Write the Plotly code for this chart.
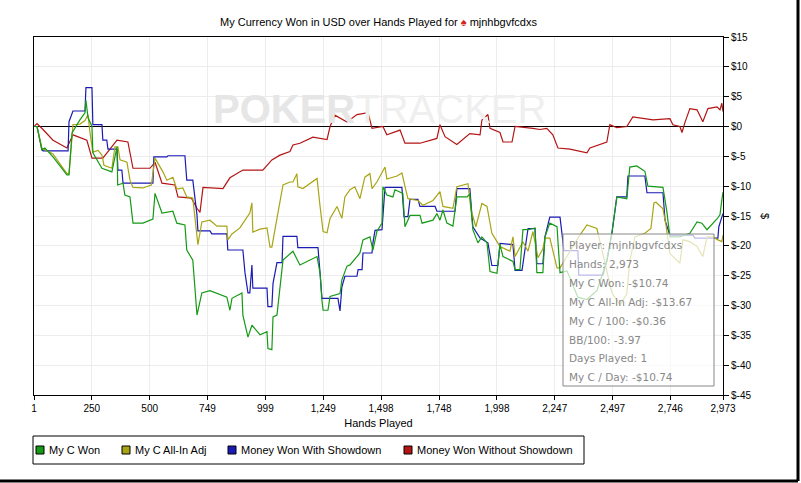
import plotly.graph_objects as go

# ---- data (hands, dollars) ----
red_h = [1,14,40,83,143,169,229,251,298,359,406,428,501,523,553,609,622,680,704,717,730,816,846,902,988,1027,1062,1105,1118,1148,1204,1265,1278,1299,1351,1394,1442,1459,1506,1523,1580,1601,1666,1739,1752,1774,1825,1881,1925,1933,1959,1968,2011,2024,2063,2076,2153,2183,2213,2239,2261,2313,2386,2399,2472,2485,2515,2558,2584,2671,2744,2757,2787,2796,2809,2830,2861,2886,2908,2947,2960,2968,2973]
red_v = [0,0.5,-0.5,-2.3,-3.6,-1.4,-2.3,-5.3,-5.3,-2.3,-2.6,-7,-7,-6,-9.5,-9.8,-11.8,-12,-13.7,-14.4,-10.2,-10.4,-8.6,-7.3,-7.3,-5.6,-4.8,-4.2,-3.1,-2.8,-1.8,-2.2,0,1.9,0.75,2,2.3,-0.3,0,-1.4,-0.6,-2.8,-2.8,-2,0.3,-1.7,-3,-1.2,-1.4,1.1,2,-0.3,-1,-2.6,-2.6,0,-0.3,-0.5,-0.3,-1.4,-3.6,-3.8,-4.4,-3.6,-2.6,0.3,-0.2,0,1.6,1.1,1.3,0.3,0,-1,0.7,3,2.8,0.8,3,3.3,2.8,3.9,2.5]

green_h = [1,14,35,48,83,143,152,165,199,221,225,234,251,255,294,337,359,362,385,393,415,428,471,514,523,553,600,617,652,660,686,704,725,760,833,846,855,898,902,924,941,976,1006,1010,1027,1032,1049,1062,1075,1118,1148,1222,1235,1243,1248,1269,1278,1321,1329,1351,1364,1407,1420,1450,1463,1480,1502,1506,1523,1549,1558,1592,1601,1623,1666,1675,1722,1739,1752,1765,1782,1808,1825,1869,1881,1894,1916,1933,1955,1968,1998,2011,2024,2067,2076,2097,2110,2132,2162,2170,2196,2205,2226,2257,2270,2300,2347,2386,2429,2472,2494,2515,2558,2571,2601,2636,2649,2714,2731,2744,2787,2830,2861,2882,2904,2947,2960,2968,2973]
green_v = [0,0,-3.9,-3.6,-5.1,-8.1,-8.1,-1.1,1.1,2.3,4.4,1.5,0,-4.4,-7,-7.6,-3.4,-9.8,-9.5,-11.5,-11.8,-16.2,-16.2,-15.5,-11.2,-14.5,-14.2,-16.2,-16.5,-20.7,-22.4,-31.6,-27.9,-27.5,-28.6,-30.8,-28.8,-27.9,-31.6,-35.3,-33.3,-34.9,-34.4,-37.2,-37.4,-31.9,-31.6,-27.2,-22.4,-20.9,-23.2,-21.8,-24.6,-29.1,-30.8,-30.8,-28.5,-28,-25.7,-23.4,-23.2,-21.2,-19,-18.5,-20.7,-17.6,-16.2,-10.1,-11.5,-11.8,-10.6,-11.2,-16.8,-14.9,-14.9,-16.2,-15.7,-14.6,-15.7,-14,-16.2,-16.7,-11.8,-11.8,-11.3,-17.3,-19.5,-18.5,-19.5,-24.3,-24.6,-19.8,-21.8,-22.6,-24,-24,-17.3,-17.3,-17,-24.5,-24.5,-18.5,-16.2,-16.8,-24.5,-24.2,-28.6,-29,-27.5,-22.5,-17.8,-11.8,-12.1,-6.8,-6.6,-7.5,-10,-10.2,-14.3,-18.5,-18.5,-17.9,-16,-16.2,-17.3,-15.5,-14.8,-12.3,-11,-10.74]

blue_h = [1,14,35,40,148,152,169,221,225,251,255,294,298,315,320,359,363,380,385,514,518,574,579,652,660,686,704,708,760,768,833,837,902,911,924,932,941,945,1006,1010,1027,1032,1049,1071,1075,1135,1139,1226,1235,1243,1312,1321,1329,1342,1394,1399,1416,1420,1459,1463,1472,1502,1515,1588,1597,1614,1623,1657,1666,1731,1739,1817,1825,1881,1894,1925,1959,1976,2002,2011,2067,2076,2106,2132,2162,2170,2196,2205,2226,2270,2287,2347,2351,2455,2472,2494,2515,2558,2563,2636,2645,2714,2723,2744,2843,2852,2951,2955,2968,2973]
blue_v = [0,0,-3.9,-4.1,-4.1,0.8,2.6,2.6,6.5,6.5,0.3,0.3,-2.3,-2.3,-3.8,-3.8,-7.3,-7.3,-9.5,-9.5,-5.1,-5.1,-4.9,-4.9,-9,-9,-14.8,-17.5,-17.5,-18,-18,-20.7,-20.7,-24.5,-27.9,-27.9,-23.2,-27.1,-27.1,-30.2,-30.2,-26.3,-22.8,-22.8,-18.4,-18.4,-20.3,-20.3,-24.6,-28.8,-28.8,-30.9,-26.9,-25.1,-25.1,-24,-24,-21.2,-21.2,-19.5,-17.4,-17.3,-10.2,-10.2,-15.1,-15.1,-12.2,-12.2,-13.4,-13.4,-14.2,-14.2,-10.4,-10.4,-16.8,-18.7,-19.5,-23.3,-23.3,-19.6,-19.8,-24.1,-24.1,-17.1,-17.1,-23,-23,-18.5,-15.2,-15.2,-20.8,-20.8,-24.9,-24.9,-22.5,-17.8,-11.8,-11.8,-8.3,-8.3,-11.1,-11.1,-15.7,-18.2,-18.2,-18.7,-18.7,-16.8,-15.2,-14.6]

yellow_h = [1,14,35,83,143,152,165,169,199,221,234,242,255,277,294,303,337,350,363,372,402,415,428,471,507,523,557,574,600,617,643,660,686,708,725,760,790,833,837,855,889,932,941,945,976,1006,1019,1027,1049,1075,1105,1118,1135,1139,1161,1204,1222,1235,1248,1265,1278,1308,1329,1342,1364,1385,1407,1428,1450,1459,1480,1515,1523,1567,1588,1601,1614,1657,1679,1722,1752,1765,1808,1825,1873,1886,1907,1933,1955,1976,2011,2054,2067,2076,2110,2132,2153,2175,2196,2205,2226,2257,2270,2347,2386,2429,2472,2494,2529,2558,2571,2593,2636,2662,2675,2684,2714,2727,2744,2787,2800,2830,2861,2886,2904,2930,2951,2968,2973]
yellow_v = [0,0,-3.6,-4.6,-7.9,-7.9,-1.8,0.3,0.4,1,2,-0.9,-4.3,-4,-4.8,-6.5,-7,-3.4,-3.4,-5.6,-6,-9,-10.2,-10.3,-9.8,-5.3,-7.6,-9,-8.5,-10.5,-10.3,-11.8,-12,-19.8,-16,-15.7,-16.7,-16.7,-19,-18,-17,-14.5,-12.8,-17.7,-17.2,-17,-20.2,-20.2,-15.4,-9.8,-9.3,-9.3,-7.9,-10.1,-10.4,-9.3,-8.7,-13.4,-17.6,-17.8,-15.4,-13.4,-15.4,-11.8,-10.6,-10.1,-12.1,-8.5,-7.9,-10.4,-9.3,-6.8,-8.8,-8.3,-7.8,-10,-12.1,-12.4,-13.2,-12.4,-10.9,-13.4,-13.7,-10.1,-9.6,-14,-16.8,-12.9,-13.4,-17.9,-20.1,-20.9,-18.5,-21.8,-19.3,-20.9,-17.6,-22,-20.5,-18.7,-18.7,-23.7,-23.7,-18.7,-16.5,-17.1,-24.2,-27.9,-29.9,-28.1,-22.5,-18.5,-17.9,-17.1,-12.8,-12.7,-13.8,-16.5,-21.3,-22.9,-19,-19.3,-20.1,-21.8,-18.5,-18.5,-19,-19.3,-18.2,-17.9,-16.3,-14.8,-13.67]

x_ticks = [1,250,500,749,999,1249,1498,1748,1998,2247,2497,2746,2973]
x_labels = [f"{v:,}" for v in x_ticks]
y_ticks = list(range(-45, 20, 5))
y_labels = [f"${v}" for v in y_ticks]

tooltip_lines = ["Player: mjnhbgvfcdxs", "Hands: 2,973", "My C Won: -$10.74",
                 "My C All-In Adj: -$13.67", "My C / 100: -$0.36", "BB/100: -3.97",
                 "Days Played: 1", "My C / Day: -$10.74"]

series = [
    ("My C Won", "#159a15", green_h, green_v),
    ("My C All-In Adj", "#a8a414", yellow_h, yellow_v),
    ("Money Won With Showdown", "#1a1ab4", blue_h, blue_v),
    ("Money Won Without Showdown", "#b41414", red_h, red_v),
]
legend_marker_px = [40, 126, 232, 408]

L, T, PW, PH = 34, 37, 689, 358
def px(x): return (x - L) / PW
def py(y): return (T + PH - y) / PH

fig = go.Figure()
for name, col, h, v in reversed(series):
    fig.add_trace(go.Scatter(x=h, y=v, mode="lines", line=dict(color=col, width=1.2),
                             showlegend=False, hoverinfo="skip"))

fig.add_annotation(text="<b>POKER</b><span style='color:#efefef'>TRACKER</span>",
                   xref="paper", yref="paper", x=px(380), y=py(85),
                   showarrow=False,
                   font=dict(family="Liberation Sans Narrow, Liberation Sans", size=40, color="#e6e6e6"))

fig.add_shape(type="rect", xref="paper", yref="paper", x0=px(563), x1=px(714),
              y0=py(386), y1=py(234), line=dict(color="#888", width=1),
              fillcolor="rgba(255,255,255,0.7)")
for i, t in enumerate(tooltip_lines):
    fig.add_annotation(text=t, xref="paper", yref="paper", x=px(567), y=py(245 + i * 18.9),
                       xanchor="left", yanchor="middle", showarrow=False,
                       font=dict(family="DejaVu Sans", size=10.5, color="#888"))

fig.add_annotation(text="$", xref="paper", yref="paper", x=px(765), y=0.5,
                   xanchor="center", showarrow=False, textangle=90,
                   font=dict(size=11, color="black"))

fig.add_shape(type="rect", xref="paper", yref="paper", x0=px(33), x1=px(584),
              y0=py(464), y1=py(436), line=dict(color="black", width=1), fillcolor="white")
for (name, col, h, v), mx in zip(series, legend_marker_px):
    fig.add_shape(type="rect", xref="paper", yref="paper", x0=px(mx - 4), x1=px(mx + 4),
                  y0=py(454), y1=py(446), line=dict(color="black", width=1), fillcolor=col)
    fig.add_annotation(text=name, xref="paper", yref="paper", x=px(mx + 7), y=py(450),
                       xanchor="left", yanchor="middle", showarrow=False,
                       font=dict(family="Liberation Sans Narrow, Liberation Sans", size=11, color="black"))

fig.add_shape(type="line", xref="paper", yref="paper", x0=px(798), x1=px(798),
              y0=py(481), y1=py(-5), line=dict(color="black", width=3))
fig.add_shape(type="line", xref="paper", yref="paper", x0=px(-5), x1=px(798),
              y0=py(481), y1=py(481), line=dict(color="black", width=3))

fig.update_layout(
    width=801, height=483, margin=dict(l=34, r=78, t=37, b=88),
    paper_bgcolor="white", plot_bgcolor="white", showlegend=False,
    font=dict(family="Liberation Sans", size=10, color="black"),
    title=dict(text="My Currency Won in USD over Hands Played for <span style='color:#d42020'>♠</span> mjnhbgvfcdxs",
               x=0.5, xref="paper", y=1 - 22/483, yanchor="middle", font=dict(size=11)),
    xaxis=dict(range=[1, 2973], tickvals=x_ticks, ticktext=x_labels, showgrid=True,
               gridcolor="#ececec", showline=True, linecolor="black", mirror=True,
               ticks="outside", ticklen=4, tickcolor="black", zeroline=False,
               title=dict(text="Hands Played", standoff=6, font=dict(size=11))),
    yaxis=dict(range=[-45, 15], tickvals=y_ticks, ticktext=y_labels, side="right",
               showgrid=True, gridcolor="#ececec", showline=True, linecolor="black",
               mirror=True, ticks="outside", ticklen=5, tickcolor="black",
               zeroline=True, zerolinecolor="black", zerolinewidth=1),
)
fig.write_html("out.html", config={"displayModeBar": False},
               post_script="document.body.style.margin='0';")
